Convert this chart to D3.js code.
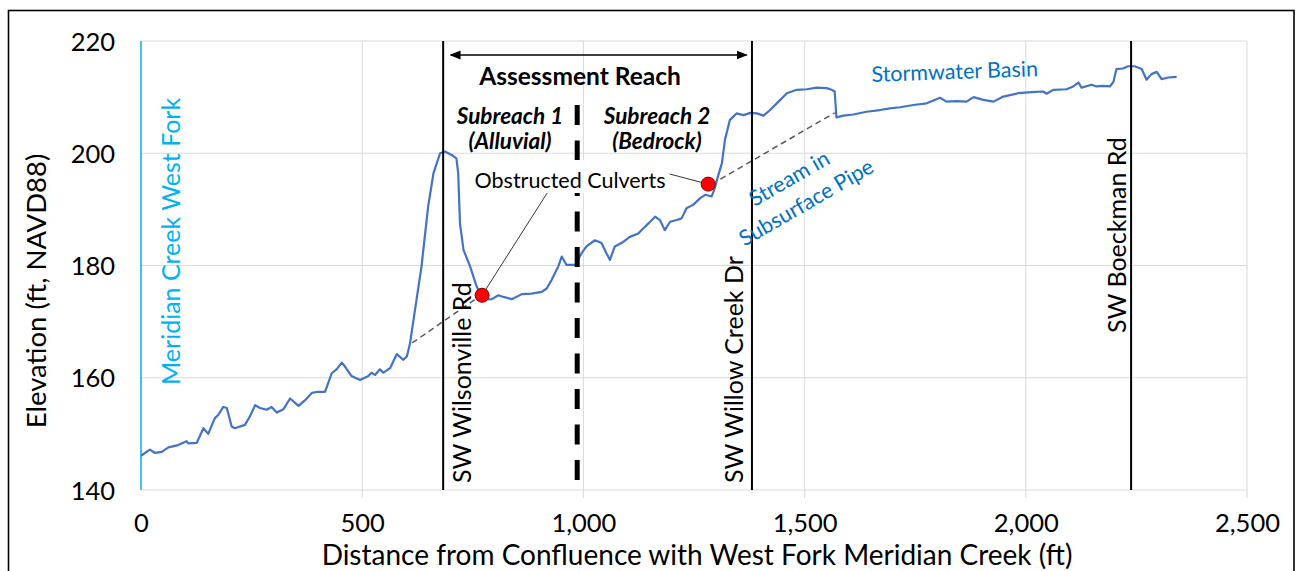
<!DOCTYPE html>
<html>
<head>
<meta charset="utf-8">
<script src="https://cdn.jsdelivr.net/npm/d3@7"></script>
<style>
  html, body { margin: 0; padding: 0; background: #fff; }
  svg { display: block; }
  text { font-family: Lato, "Open Sans", sans-serif; }
</style>
</head>
<body>
<svg id="chart" width="1296" height="571"></svg>
<script>
// ---------- data ----------
const distance = [0,20,32,47,62,84,103,107,126,141,152,167,175,186,194,205,212,235,246,258,269,284,295,307,322,337,356,371,386,401,416,431,442,454,461,476,495,514,521,529,540,548,563,578,593,601,608,616,634,649,661,676,687,702,713,717,721,729,744,759,774,793,808,819,838,861,883,906,917,928,943,951,962,981,996,1007,1026,1041,1052,1060,1071,1090,1105,1124,1135,1147,1162,1173,1184,1196,1211,1222,1233,1248,1264,1275,1290,1297,1305,1313,1320,1331,1346,1362,1377,1392,1407,1422,1441,1460,1482,1505,1527,1550,1561,1568,1572,1588,1610,1640,1670,1693,1716,1746,1776,1806,1821,1844,1866,1882,1904,1927,1949,1983,2013,2039,2047,2062,2092,2107,2119,2126,2149,2160,2175,2190,2198,2205,2220,2231,2246,2262,2273,2284,2296,2307,2322,2341];
const elevation = [146.1,147.2,146.6,146.8,147.6,148.0,148.7,148.3,148.4,151.0,150.0,152.8,153.4,154.8,154.6,151.3,151.0,151.6,153.1,155.1,154.6,154.3,154.8,153.8,154.4,156.3,155.0,156.0,157.3,157.5,157.5,160.8,161.5,162.7,162.0,160.3,159.6,160.3,160.9,160.5,161.5,160.9,161.7,164.2,163.2,163.8,166.1,170.3,179.8,190.5,196.4,200.0,200.3,199.7,199.1,196.4,187.5,182.8,179.8,176.2,173.9,174.0,174.7,174.4,174.0,174.9,175.0,175.3,175.9,177.4,179.8,181.6,180.1,180.1,182.2,183.4,184.5,184.0,182.2,181.0,183.4,184.2,185.1,185.7,186.6,187.5,188.7,188.1,186.3,187.8,188.1,188.4,190.2,190.8,192.0,192.6,192.3,193.8,196.1,198.2,202.4,205.9,207.1,206.8,207.2,207.1,206.7,207.7,209.2,210.7,211.3,211.4,211.7,211.6,211.3,211.0,206.4,206.7,206.9,207.4,207.7,208.0,208.2,208.6,208.9,209.9,209.2,209.3,209.2,210.0,209.5,209.2,210.1,210.7,210.9,211.0,210.6,211.3,211.4,211.9,212.6,211.7,212.2,211.9,212.0,211.9,212.7,215.0,215.1,215.5,215.5,215.0,213.1,214.1,214.5,213.2,213.5,213.6];

// piped reaches (dashed), [distance, elevation]
const pipeReach1 = [[613,166.2],[765,174.5]];
const pipeReach2 = [[1290,194.5],[1568,207.2]];
// obstructed culverts
const culverts = [[771,174.7],[1282,194.5]];
// road crossings
const roadNames = ["SW Wilsonville Rd","SW Willow Creek Dr","SW Boeckman Rd"];
const roadDistance = [683,1381,2238];
const subreachBreak = 986;
const confluenceLabel = "Meridian Creek West Fork";

const xTicks = [0,500,1000,1500,2000,2500];
const yTicks = [140,160,180,200,220];
const xTitle = "Distance from Confluence with West Fork Meridian Creek (ft)";
const yTitle = "Elevation (ft, NAVD88)";

// ---------- layout ----------
const svg = d3.select("#chart");
const x = d3.scaleLinear().domain([0,2500]).range([141,1247]);
const y = d3.scaleLinear().domain([140,220]).range([490,41]);
const fmt = d3.format(",");

// frame
svg.append("rect").attr("x",8.5).attr("y",10.5).attr("width",1285.5).attr("height",580)
  .attr("fill","none").attr("stroke","#000").attr("stroke-width",1.6);

// gridlines
const grid = svg.append("g");
grid.selectAll("line.h").data(yTicks).join("line")
  .attr("x1",x(0)).attr("x2",x(2500)).attr("y1",d=>y(d)).attr("y2",d=>y(d))
  .attr("stroke","#d9d9d9").attr("stroke-width",1);
grid.selectAll("line.v").data(xTicks.slice(1)).join("line")
  .attr("x1",d=>x(d)).attr("x2",d=>x(d)).attr("y1",y(220)).attr("y2",y(140)+8)
  .attr("stroke","#d9d9d9").attr("stroke-width",1);

// axes (labels only, via d3 axes)
const xAxis = svg.append("g").attr("transform",`translate(0,${y(140)})`)
  .call(d3.axisBottom(x).tickValues(xTicks).tickFormat(fmt).tickSize(0).tickPadding(24));
xAxis.select(".domain").remove();
xAxis.selectAll("text").attr("font-size",25.5).attr("fill","#000").attr("font-family","Lato");

const yAxis = svg.append("g").attr("transform",`translate(${x(0)},0)`)
  .call(d3.axisLeft(y).tickValues(yTicks).tickSize(0).tickPadding(26));
yAxis.select(".domain").remove();
yAxis.selectAll("text").attr("font-size",25.5).attr("fill","#000").attr("font-family","Lato").attr("dy","0.36em");

// axis titles
svg.append("text").attr("x",697).attr("y",565).attr("text-anchor","middle")
  .attr("font-size",28).attr("fill","#000").text(xTitle);
svg.append("text").attr("transform","translate(46,291) rotate(-90)").attr("text-anchor","middle")
  .attr("font-size",27.5).attr("fill","#000").text(yTitle);

// confluence line
svg.append("line").attr("x1",x(0)).attr("x2",x(0)).attr("y1",y(220)).attr("y2",y(140))
  .attr("stroke","#00b0f0").attr("stroke-width",1.5);
svg.append("text").attr("transform",`translate(180,385) rotate(-90)`)
  .attr("font-size",25).attr("fill","#00b0f0").text(confluenceLabel);

// pipe reaches
const lineGen = d3.line().x(d=>x(d[0])).y(d=>y(d[1]));
[pipeReach1,pipeReach2].forEach(p=>{
  svg.append("path").attr("d",lineGen(p)).attr("fill","none")
    .attr("stroke","#595959").attr("stroke-width",1.5).attr("stroke-dasharray","6,4");
});

// profile
const profile = distance.map((d,i)=>[d,elevation[i]]);
svg.append("path").attr("d",lineGen(profile)).attr("fill","none")
  .attr("stroke","#4472c4").attr("stroke-width",2.2).attr("stroke-linejoin","round");

// road lines
svg.selectAll("line.road").data(roadDistance).join("line")
  .attr("x1",d=>x(d)).attr("x2",d=>x(d)).attr("y1",y(220)).attr("y2",y(140))
  .attr("stroke","#000").attr("stroke-width",2);

// subreach break (dashed thick)
svg.append("line").attr("x1",x(subreachBreak)).attr("x2",x(subreachBreak))
  .attr("y1",105).attr("y2",y(140)).attr("stroke","#000").attr("stroke-width",5)
  .attr("stroke-dasharray","20,15.5");

// road labels
const roadLabelPos = [[471,483],[743,483],[1126,333]];
roadNames.forEach((n,i)=>{
  svg.append("text").attr("transform",`translate(${roadLabelPos[i][0]},${roadLabelPos[i][1]}) rotate(-90)`)
    .attr("font-size",25).attr("fill","#000").text(n);
});

// assessment reach arrow
const defs = svg.append("defs");
defs.append("marker").attr("id","ah").attr("viewBox","0 0 10 10").attr("refX",9).attr("refY",5)
  .attr("markerWidth",11).attr("markerHeight",11).attr("markerUnits","userSpaceOnUse")
  .attr("orient","auto-start-reverse")
  .append("path").attr("d","M0,1 L10,5 L0,9 Z").attr("fill","#000");
svg.append("line").attr("x1",x(700)).attr("x2",x(1369)).attr("y1",55).attr("y2",55)
  .attr("stroke","#000").attr("stroke-width",1.5)
  .attr("marker-start","url(#ah)").attr("marker-end","url(#ah)");
svg.append("text").attr("x",580).attr("y",85).attr("text-anchor","middle")
  .attr("font-size",24.5).attr("font-weight","bold").attr("fill","#000").text("Assessment Reach");

const sub = [["Subreach 1","(Alluvial)",510],["Subreach 2","(Bedrock)",657]];
sub.forEach(s=>{
  svg.append("text").attr("x",s[2]).attr("y",124).attr("text-anchor","middle")
    .attr("font-size",22.5).attr("font-weight","bold").attr("font-style","italic").text(s[0]);
  svg.append("text").attr("x",s[2]).attr("y",149).attr("text-anchor","middle")
    .attr("font-size",22.5).attr("font-weight","bold").attr("font-style","italic").text(s[1]);
});

// obstructed culverts label with white box
svg.append("rect").attr("x",472).attr("y",160).attr("width",196).attr("height",33).attr("fill","#fff");
svg.append("text").attr("x",570).attr("y",188).attr("text-anchor","middle")
  .attr("font-size",21.5).attr("fill","#000").text("Obstructed Culverts");
// leader lines
const leaderStart = [[918,192.9],[1195,196.3]];
culverts.forEach((c,i)=>{
  svg.append("line").attr("x1",x(leaderStart[i][0])).attr("y1",y(leaderStart[i][1]))
    .attr("x2",x(c[0])).attr("y2",y(c[1])).attr("stroke","#000").attr("stroke-width",0.8);
});
svg.selectAll("circle.culv").data(culverts).join("circle")
  .attr("cx",d=>x(d[0])).attr("cy",d=>y(d[1])).attr("r",7)
  .attr("fill","#ff0000").attr("stroke","#7f0000").attr("stroke-width",1);

// blue annotations
svg.append("text").attr("transform","translate(955,79) rotate(-2)").attr("text-anchor","middle")
  .attr("font-size",21.5).attr("fill","#0070c0").text("Stormwater Basin");
svg.append("text").attr("transform","translate(789,178) rotate(-30)").attr("text-anchor","middle")
  .attr("dominant-baseline","central").attr("font-size",21.5).attr("fill","#0070c0").text("Stream in");
svg.append("text").attr("transform","translate(806,202) rotate(-30)").attr("text-anchor","middle")
  .attr("dominant-baseline","central").attr("font-size",21.5).attr("fill","#0070c0").text("Subsurface Pipe");
</script>
</body>
</html>
